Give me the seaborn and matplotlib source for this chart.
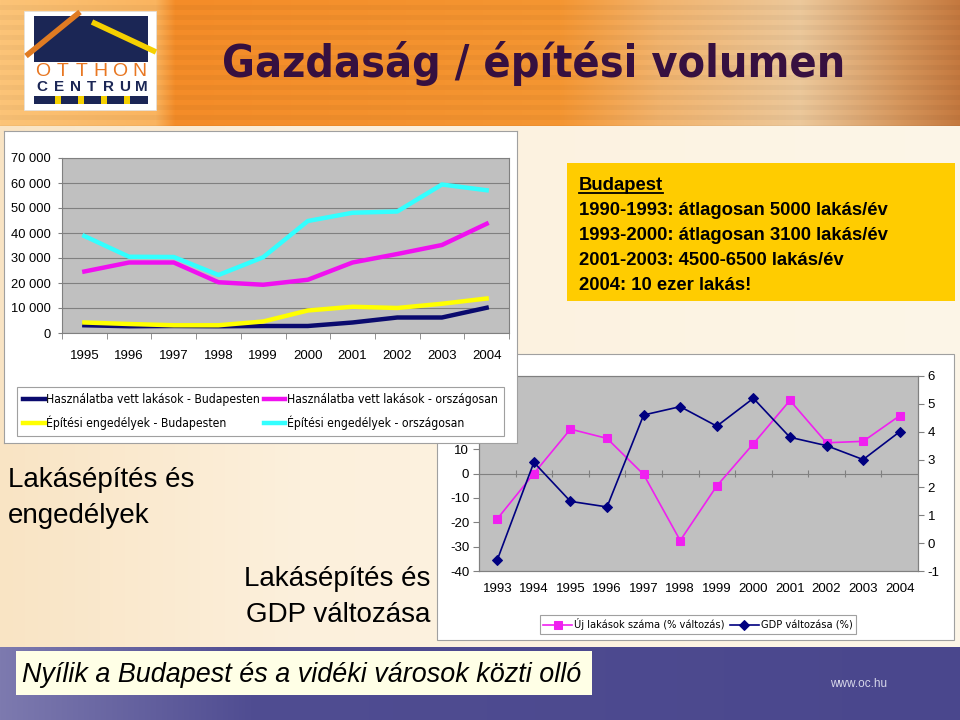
import numpy as np
import pandas as pd
import matplotlib
matplotlib.use("Agg")
import matplotlib.pyplot as plt
import seaborn as sns
from matplotlib import font_manager
from matplotlib.font_manager import FontProperties
from matplotlib.patches import Rectangle
from matplotlib.ticker import FuncFormatter

# ---------------- data ----------------
years1 = [1995, 1996, 1997, 1998, 1999, 2000, 2001, 2002, 2003, 2004]
bp_completed = [3100, 2700, 2800, 2700, 2800, 2800, 4200, 6200, 6200, 10100]
nat_completed = [24600, 28200, 28200, 20300, 19300, 21300, 28200, 31600, 35200, 43700]
bp_permits = [4200, 3600, 3100, 3100, 4600, 9000, 10500, 10000, 11700, 13800]
nat_permits = [38800, 30500, 30400, 23200, 30300, 44800, 48100, 48600, 59400, 57100]
labels1 = ["Használatba vett lakások - Budapesten",
           "Használatba vett lakások - országosan",
           "Építési engedélyek - Budapesten",
           "Építési engedélyek - országosan"]
colors1 = ["#0A0A6E", "#F010F0", "#FFFF00", "#33FFFF"]

years2 = [1993, 1994, 1995, 1996, 1997, 1998, 1999, 2000, 2001, 2002, 2003, 2004]
new_homes_pct = [-18.6, 0.0, 18.2, 14.4, -0.4, -27.5, -5.1, 12.2, 30.0, 12.6, 13.2, 23.7]
gdp_pct = [-0.6, 2.9, 1.5, 1.3, 4.6, 4.9, 4.2, 5.2, 3.8, 3.5, 3.0, 4.0]
labels2 = ["Új lakások száma (% változás)", "GDP változása (%)"]

title = "Gazdaság / építési volumen"
box_lines = ["1990-1993: átlagosan 5000 lakás/év",
             "1993-2000: átlagosan 3100 lakás/év",
             "2001-2003: 4500-6500 lakás/év",
             "2004: 10 ezer lakás!"]
footer = "Nyílik a Budapest és a vidéki városok közti olló"

# ---------------- fonts ----------------
avail = {f.name for f in font_manager.fontManager.ttflist}
ARIAL = "Liberation Sans" if "Liberation Sans" in avail else "DejaVu Sans"
plt.rcParams["font.family"] = [ARIAL, "DejaVu Sans"]
plt.rcParams["axes.unicode_minus"] = False


def find_condensed(bold):
    best = None
    for f in font_manager.fontManager.ttflist:
        nm = f.name
        cond = (nm in ("Liberation Sans Narrow", "Arial Narrow")
                or "Condensed" in nm or "Narrow" in nm
                or (nm in ("DejaVu Sans", "Liberation Sans", "Roboto", "Open Sans", "Noto Sans")
                    and str(f.stretch) in ("condensed", "semi-condensed")))
        if not cond or f.style != "normal":
            continue
        w = f.weight if isinstance(f.weight, int) else (700 if "bold" in str(f.weight) else 400)
        if (w >= 600) == bold:
            if best is None or "Liberation" in nm:
                best = f.fname
    return best


cond_reg = find_condensed(False)
cond_bold = find_condensed(True)


def fp(size, bold=False, condensed=True):
    fn = (cond_bold if bold else cond_reg) if condensed else None
    if fn:
        return FontProperties(fname=fn, size=size)
    return FontProperties(family=[ARIAL], size=size, weight="bold" if bold else "normal")


W, H = 960, 720
fig = plt.figure(figsize=(9.6, 7.2), dpi=100)
renderer = fig.canvas.get_renderer()


def frect(x0, y0, x1, y1):
    return [x0 / W, 1 - y1 / H, (x1 - x0) / W, (y1 - y0) / H]


def fit(t, width):
    w = t.get_window_extent(renderer).width
    if w > 0:
        t.set_fontsize(t.get_fontsize() * width / w)


def size_for(text, width, bold=False, condensed=True):
    tt = fig.text(0, 0, text, fontproperties=fp(10, bold, condensed))
    w = tt.get_window_extent(renderer).width
    tt.remove()
    return 10 * width / w


def grad(xs, cols, n=960):
    x = np.arange(n)
    cols = np.array(cols) / 255.0
    return np.stack([np.interp(x, xs, cols[:, i]) for i in range(3)], axis=-1)


# ---------------- background ----------------
bg = fig.add_axes([0, 0, 1, 1], zorder=0)
hdr = grad([0, 155, 175, 560, 660, 800, 900, 960],
           [(252, 196, 120), (250, 180, 95), (244, 140, 40), (245, 150, 50),
            (242, 180, 110), (236, 200, 155), (214, 150, 92), (196, 120, 62)])
hdr = np.repeat(hdr[None, :, :], 126, axis=0)
stripe = 1 - 0.035 * ((np.arange(126) // 5) % 2)
hdr = hdr * stripe[:, None, None]
bg.imshow(hdr, extent=(0, 960, 126, 0), aspect="auto", zorder=0)
body = grad([0, 300, 960], [(249, 228, 196), (252, 240, 220), (253, 246, 232)])
bg.imshow(np.repeat(body[None], 2, axis=0), extent=(0, 960, 647, 126), aspect="auto", zorder=0)
foot = grad([0, 250, 960], [(125, 122, 175), (80, 77, 146), (74, 71, 141)])
bg.imshow(np.repeat(foot[None], 2, axis=0), extent=(0, 960, 720, 647), aspect="auto", zorder=0)
bg.set_xlim(0, W)
bg.set_ylim(H, 0)
bg.axis("off")

# logo
navy = "#1B2655"
bg.add_patch(Rectangle((24, 11), 132, 99, fc="white", ec="#E0E0E0", lw=0.5, zorder=2))
bg.add_patch(Rectangle((34, 16), 114, 46, fc=navy, zorder=3))
bg.plot([26, 80], [56, 12], color="#E07B22", lw=4, solid_capstyle="butt", zorder=4)
bg.plot([92, 156], [22, 52], color="#F5D000", lw=4, solid_capstyle="butt", zorder=4)
for i, ch in enumerate("OTTHON"):
    bg.text(43 + i * 19.2, 72, ch, color="#E87722", fontsize=14, ha="center",
            va="center", zorder=5, family=[ARIAL])
for i, ch in enumerate("CENTRUM"):
    bg.text(42 + i * 16.6, 87, ch, color=navy, fontsize=11, fontweight="bold",
            ha="center", va="center", zorder=5, family=[ARIAL])
bg.add_patch(Rectangle((34, 96), 114, 8, fc=navy, zorder=3))
for gx in [55, 78, 101, 124]:
    bg.add_patch(Rectangle((gx, 96), 6, 8, fc="#F5D000", zorder=4))

# title
t = bg.text(222, 77, title, color="#361040", va="baseline", ha="left", zorder=5,
            fontproperties=fp(37, bold=True))
fit(t, 623)

# yellow box
bg.add_patch(Rectangle((567, 163), 388, 138, fc="#FFCC00", ec="none", zorder=2))
tb = bg.text(579, 190, "Budapest", fontsize=13.3, fontweight="bold", color="black",
             va="baseline", zorder=5)
bbw = tb.get_window_extent(renderer).width
bg.plot([579, 579 + bbw], [193, 193], color="black", lw=1.3, zorder=5)
for k, line in enumerate(box_lines):
    bg.text(579, 215 + 25 * k, line, fontsize=13.3, fontweight="bold",
            color="black", va="baseline", zorder=5)

# side texts
bg.text(8, 487, "Lakásépítés és", fontsize=20, va="baseline", color="black", zorder=5)
bg.text(8, 523, "engedélyek", fontsize=20, va="baseline", color="black", zorder=5)
bg.text(430, 586, "Lakásépítés és", fontsize=20, va="baseline", ha="right", color="black", zorder=5)
bg.text(430, 622, "GDP változása", fontsize=20, va="baseline", ha="right", color="black", zorder=5)

# footer
bg.add_patch(Rectangle((16, 651), 576, 44, fc="#FFFFE6", ec="none", zorder=2))
tf = bg.text(22, 675, footer, fontsize=17.5, style="italic", va="center", color="black", zorder=5)
fit(tf, 556)
bg.text(830, 684, "www.oc.hu", fontsize=8.5, color="#D8D8EA", va="center", zorder=5)

# chart 2 panel
bg.add_patch(Rectangle((437, 354), 517, 286, fc="white", ec="#A0A0A0", lw=0.8, zorder=2))

GRID = "#808080"

# ---------------- chart 2 ----------------
ax2 = fig.add_axes(frect(479, 376, 918, 571), zorder=2)
ax2.set_facecolor("#C0C0C0")
ax2.axhline(0, color=GRID, lw=0.8, zorder=1)
ax2.vlines([y + 0.5 for y in years2[:-1]], -1.3, 1.3, color=GRID, lw=0.8, zorder=1)
sns.lineplot(x=years2, y=new_homes_pct, ax=ax2, color="#F020F0", lw=1.2,
             marker="s", markersize=6, markeredgecolor="#F020F0", zorder=3)
pink_line = ax2.lines[-1]
ax2.set_xlim(years2[0] - 0.5, years2[-1] + 0.5)
ax2.set_ylim(-40, 40)
yt2 = list(range(-40, 41, 10))
ax2.set_yticks(yt2)
# labels above 10 sit under the first chart's panel, as in the slide
ax2.set_yticklabels([str(v) if v <= 10 else "" for v in yt2])
ax2.set_xticks(years2)
ax2.set_xticklabels([str(y) for y in years2])
ax2.tick_params(axis="x", length=0, pad=9, labelsize=9.5)
ax2.tick_params(axis="y", length=4, color=GRID, pad=3, labelsize=9.5)
for s in ax2.spines.values():
    s.set_color(GRID)
    s.set_linewidth(0.8)

ax2r = ax2.twinx()
ax2r.set_zorder(2.1)
sns.lineplot(x=years2, y=gdp_pct, ax=ax2r, color="#000080", lw=1.2,
             marker="D", markersize=5, markeredgecolor="#000080", zorder=4)
gdp_line = ax2r.lines[-1]
ax2r.set_ylim(-1, 6)
ax2r.set_yticks(range(-1, 7))
ax2r.tick_params(axis="y", length=4, color=GRID, pad=3, labelsize=9.5)
for s in ax2r.spines.values():
    s.set_color(GRID)
    s.set_linewidth(0.8)
for a in (ax2, ax2r):
    a.set_xlabel("")
    a.set_ylabel("")

leg2 = fig.legend([pink_line, gdp_line], labels2, ncol=2, loc="center",
                  bbox_to_anchor=(536 / W, 1 - 636 / H, 324 / W, 23 / H),
                  prop=fp(size_for(labels2[0], 150)),
                  frameon=True, fancybox=False, edgecolor="#A0A0A0",
                  framealpha=1, handlelength=2.6, handletextpad=0.2,
                  columnspacing=0.5, borderpad=0.35)
leg2.get_frame().set_linewidth(0.8)

# ---------------- chart 1 ----------------
panel1 = fig.add_axes(frect(4, 131, 517, 443), zorder=3)
panel1.set_facecolor("white")
panel1.set_xticks([])
panel1.set_yticks([])
for s in panel1.spines.values():
    s.set_color("#A0A0A0")
    s.set_linewidth(0.8)

ax1 = fig.add_axes(frect(62, 158, 509, 333), zorder=4)
ax1.set_facecolor("#C0C0C0")
df1 = pd.DataFrame({
    "year": years1 * 4,
    "value": bp_completed + nat_completed + bp_permits + nat_permits,
    "series": sum([[lab] * len(years1) for lab in labels1], []),
})
ax1.set_axisbelow(True)
ax1.yaxis.grid(True, color=GRID, lw=0.8)
sns.lineplot(data=df1, x="year", y="value", hue="series", hue_order=labels1,
             palette=colors1, lw=3.2, ax=ax1, legend=False, estimator=None)
lines1 = ax1.lines[-4:]
ax1.set_xlim(years1[0] - 0.5, years1[-1] + 0.5)
ax1.set_ylim(0, 70000)
ax1.set_yticks(range(0, 70001, 10000))
ax1.yaxis.set_major_formatter(FuncFormatter(lambda v, p: f"{int(v):,}".replace(",", " ")))
ax1.set_xticks(years1)
ax1.set_xticklabels([str(y) for y in years1])
ax1.set_xticks([y - 0.5 for y in years1] + [years1[-1] + 0.5], minor=True)
ax1.tick_params(axis="x", which="minor", length=4, color=GRID)
ax1.tick_params(axis="x", which="major", length=0, pad=12, labelsize=9.5)
ax1.tick_params(axis="y", length=3, color=GRID, pad=5, labelsize=9.3)
for s in ax1.spines.values():
    s.set_color(GRID)
    s.set_linewidth(0.8)
ax1.set_xlabel("")
ax1.set_ylabel("")

order = [0, 2, 1, 3]
leg_size = size_for(labels1[0], 214)
leg1 = ax1.legend([lines1[i] for i in order], [labels1[i] for i in order], ncol=2,
                  loc="center left",
                  bbox_to_anchor=(17 / W, 1 - 411.5 / H),
                  bbox_transform=fig.transFigure, frameon=True,
                  fancybox=False, edgecolor="#A0A0A0", framealpha=1,
                  handlelength=1.8, handletextpad=0.1, labelspacing=0.75,
                  columnspacing=0.3,
                  borderpad=0.5, borderaxespad=0, prop=fp(leg_size))
leg1.get_frame().set_linewidth(0.8)

fig.savefig("out.png", dpi=100)
